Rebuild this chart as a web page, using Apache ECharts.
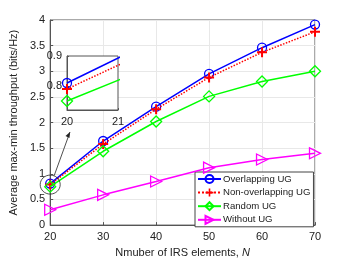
<!DOCTYPE html>
<html><head><meta charset="utf-8">
<script src="https://cdn.jsdelivr.net/npm/echarts@6/dist/echarts.min.js"></script>
<style>html,body{margin:0;padding:0;background:#fff}#c{width:348px;height:263px}</style>
</head><body><div id="c"></div>
<script>
const categories = [20, 30, 40, 50, 60, 70];
const overlapping = [0.81, 1.64, 2.31, 2.95, 3.46, 3.91];
const nonOverlapping = [0.79, 1.58, 2.26, 2.88, 3.37, 3.77];
const randomUG = [0.75, 1.44, 2.02, 2.51, 2.80, 3.00];
const withoutUG = [0.30, 0.59, 0.85, 1.12, 1.28, 1.40];
const seriesNames = ['Overlapping UG', 'Non-overlapping UG', 'Random UG', 'Without UG'];
const yTicks = [0, 0.5, 1, 1.5, 2, 2.5, 3, 3.5, 4];
const insetYTicks = [0.8, 0.9];
const insetXTicks = [20, 21];

const FONT = 'Liberation Sans, Arial, sans-serif';
const pairs = a => categories.map((x, i) => [x, a[i]]);
const plusPath = 'path://M4,0h2v4h4v2h-4v4h-2v-4h-4v-2h4z';
const triPath = 'path://M0,0L10,5L0,10Z';
const styles = [
  {data: overlapping, color: '#0000ff', symbol: 'circle', size: 9, type: 'solid', hollow: true},
  {data: nonOverlapping, color: '#ff0000', symbol: plusPath, size: 10, type: 'dotted', hollow: false},
  {data: randomUG, color: '#00ff00', symbol: 'diamond', size: 11, type: 'solid', hollow: true},
  {data: withoutUG, color: '#ff00ff', symbol: triPath, size: 11, type: 'solid', hollow: true}
];
function mk(s, i, gi, name) {
  return {
    type: 'line', name: name, xAxisIndex: gi, yAxisIndex: gi, data: pairs(s.data),
    symbol: s.symbol, symbolSize: s.size, showAllSymbol: true, clip: true,
    lineStyle: {color: s.color, width: 1.5, type: s.type},
    itemStyle: s.hollow ? {color: 'rgba(255,255,255,0)', borderColor: s.color, borderWidth: 1.3}
                        : {color: s.color, borderWidth: 0},
    emphasis: {disabled: true}, animation: false, z: 3 + i
  };
}
const series = [];
styles.forEach((s, i) => series.push(mk(s, i, 0, seriesNames[i])));
styles.slice(0, 3).forEach((s, i) => { const o = mk(s, i, 1, 'inset' + i); o.z = 20 + i; series.push(o); });

const axisCol = '#555';
const option = {
  backgroundColor: '#fff',
  textStyle: {fontFamily: FONT},
  animation: false,
  grid: [
    {left: 45, right: 33, top: 20, bottom: 34, show: true, borderColor: axisCol, borderWidth: 1, backgroundColor: '#fff'},
    {left: 67, top: 56, width: 51, height: 54, show: true, borderColor: axisCol, borderWidth: 1, backgroundColor: '#fff', z: 10}
  ],
  xAxis: [
    {type: 'value', gridIndex: 0, min: 20, max: 70, interval: 10,
     name: 'Nmuber of IRS elements, {i|N}', nameLocation: 'middle', nameGap: 20,
     nameTextStyle: {fontSize: 11, color: '#222', fontFamily: FONT, rich: {i: {fontStyle: 'italic', fontSize: 11, color: '#222', fontFamily: FONT}}},
     axisLine: {lineStyle: {color: axisCol}}, axisTick: {inside: true, length: 3, lineStyle: {color: axisCol}},
     axisLabel: {fontSize: 11, color: '#222', margin: 6},
     splitLine: {show: true, lineStyle: {color: '#e8e8e8', width: 1}}},
    {type: 'value', gridIndex: 1, min: 20, max: 21, interval: 1,
     axisLine: {show: true, onZero: false, lineStyle: {color: axisCol}}, axisTick: {inside: true, length: 2, lineStyle: {color: axisCol}},
     axisLabel: {fontSize: 11, color: '#222', margin: 6, customValues: insetXTicks},
     splitLine: {show: false}, z: 11}
  ],
  yAxis: [
    {type: 'value', gridIndex: 0, min: 0, max: 4, interval: 0.5,
     name: 'Average max-min throughput (bits/Hz)', nameLocation: 'middle', nameGap: 27, nameRotate: 90,
     nameTextStyle: {fontSize: 11, color: '#222'},
     axisLine: {show: true, lineStyle: {color: axisCol}}, axisTick: {show: true, inside: true, length: 3, lineStyle: {color: axisCol}},
     axisLabel: {fontSize: 11, color: '#222', margin: 5, formatter: v => yTicks.includes(v) ? String(v) : ''},
     splitLine: {show: true, lineStyle: {color: '#e8e8e8', width: 1}}},
    {type: 'value', gridIndex: 1, min: 0.72, max: 0.9,
     axisLine: {show: true, onZero: false, lineStyle: {color: axisCol}},
     axisTick: {show: true, inside: true, length: 2, customValues: insetYTicks, lineStyle: {color: axisCol}},
     axisLabel: {fontSize: 11, color: '#222', margin: 5, customValues: insetYTicks},
     splitLine: {show: false}, z: 11}
  ],
  legend: {
    data: seriesNames, orient: 'vertical', left: 195, top: 172, width: 119,
    backgroundColor: '#fff', borderColor: '#444', borderWidth: 1,
    padding: [2, 3, 2, 2], itemGap: 3.6, itemHeight: 10, itemWidth: 23,
    textStyle: {fontSize: 9.6, color: '#222', fontFamily: FONT, padding: [0, 0, 0, -3]},
    selectedMode: false
  },
  series: series
};
const chart = echarts.init(document.getElementById('c'), null, {renderer: 'canvas'});
chart.setOption(option);
const p = chart.convertToPixel({gridIndex: 0}, [categories[0], overlapping[0] - 0.02]);
const tgt = [70, 132];
chart.setOption({graphic: [
  {type: 'ellipse', shape: {cx: p[0], cy: p[1], rx: 10, ry: 9.5}, style: {fill: 'none', stroke: '#222', lineWidth: 0.8}, z: 30},
  {type: 'line', shape: {x1: p[0] + 4, y1: p[1] - 9, x2: tgt[0], y2: tgt[1]}, style: {stroke: '#222', lineWidth: 0.8}, z: 30},
  {type: 'polygon', shape: {points: [[tgt[0], tgt[1]], [tgt[0] - 4.5, tgt[1] + 4], [tgt[0] - 0.5, tgt[1] + 6]]}, style: {fill: '#222'}, z: 30}
]});
</script></body></html>
